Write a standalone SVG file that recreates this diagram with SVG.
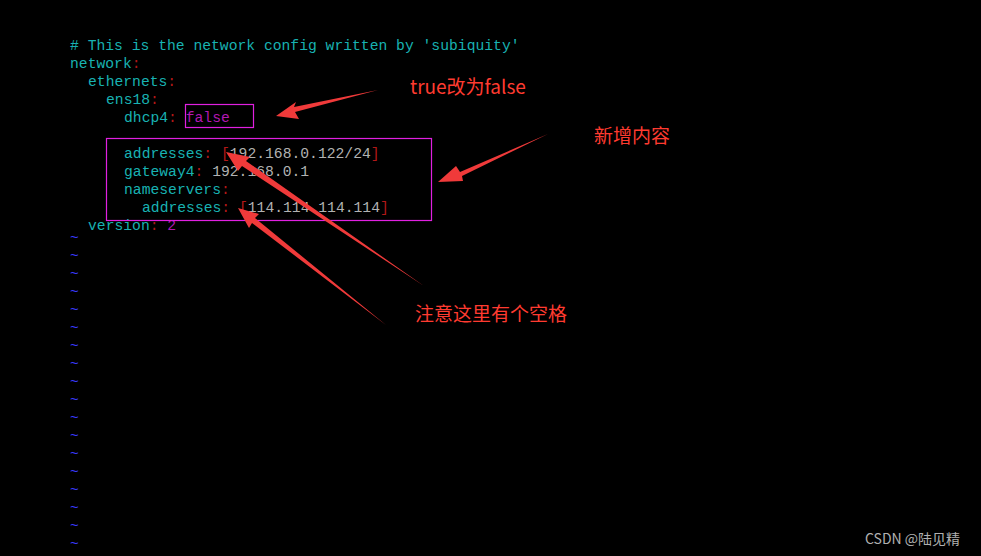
<svg xmlns="http://www.w3.org/2000/svg" width="981" height="556" viewBox="0 0 981 556">
<style>
text{font-family:"Liberation Mono","DejaVu Sans Mono",monospace;font-size:14.7px;fill:#18b2b2;white-space:pre}
.r{fill:#b21818}.m{fill:#b218b2}.g{fill:#b2b2b2}.b{fill:#3a3aff}
.ann{font-family:"Noto Sans CJK SC","Noto Sans",sans-serif;font-size:19px;fill:#ff3b30}
.arr{fill:#f03a3a}
.box{fill:none;stroke:#e020e0;stroke-width:1.2}
</style>
<rect width="981" height="556" fill="#000"/>
<g id="code">
<text x="70" y="50"># This is the network config written by 'subiquity'</text>
<text x="70" y="68">network<tspan class="r">:</tspan></text>
<text x="88" y="86">ethernets<tspan class="r">:</tspan></text>
<text x="106" y="104">ens18<tspan class="r">:</tspan></text>
<text x="124" y="122">dhcp4<tspan class="r">:</tspan> <tspan class="m">false</tspan></text>
<text x="124" y="158">addresses<tspan class="r">: [</tspan><tspan class="g">192.168.0.122/24</tspan><tspan class="r">]</tspan></text>
<text x="124" y="176">gateway4<tspan class="r">:</tspan> <tspan class="g">192.168.0.1</tspan></text>
<text x="124" y="194">nameservers<tspan class="r">:</tspan></text>
<text x="142" y="212">addresses<tspan class="r">: [</tspan><tspan class="g">114.114.114.114</tspan><tspan class="r">]</tspan></text>
<text x="88" y="230">version<tspan class="r">:</tspan> <tspan class="m">2</tspan></text>
<g class="b">
<text class="b" x="70" y="242">~</text><text class="b" x="70" y="260">~</text><text class="b" x="70" y="278">~</text><text class="b" x="70" y="296">~</text><text class="b" x="70" y="314">~</text><text class="b" x="70" y="332">~</text><text class="b" x="70" y="350">~</text><text class="b" x="70" y="368">~</text><text class="b" x="70" y="386">~</text><text class="b" x="70" y="404">~</text><text class="b" x="70" y="422">~</text><text class="b" x="70" y="440">~</text><text class="b" x="70" y="458">~</text><text class="b" x="70" y="476">~</text><text class="b" x="70" y="494">~</text><text class="b" x="70" y="512">~</text><text class="b" x="70" y="530">~</text><text class="b" x="70" y="548">~</text>
</g>
</g>
<g id="box1"><rect class="box" x="185.5" y="104.5" width="68" height="23"/></g>
<g id="box2"><rect class="box" x="106.5" y="138.5" width="325" height="82"/></g>
<g id="label1"><text class="ann" x="410" y="94">true改为false</text></g>
<g id="label2"><text class="ann" x="594" y="143">新增内容</text></g>
<g id="label3"><text class="ann" x="415" y="321">注意这里有个空格</text></g>
<g id="connectors">
<polygon class="arr" points="378,90 294,107 296,102 276,116 299,119 295,112"/>
<polygon class="arr" points="548,134 460,172 456,166 438,182 463,181 462,176"/>
<polygon class="arr" points="424,286 246,161 250,157 226,152 238,171 242,166"/>
<polygon class="arr" points="386,325 255,218 259,214 238,208 249,228 252,223"/>
</g>
<text x="865" y="544" style="font-family:'Noto Sans CJK SC','Noto Sans',sans-serif;font-size:14px;fill:#b0b0b0">CSDN @陆见精</text>
</svg>
